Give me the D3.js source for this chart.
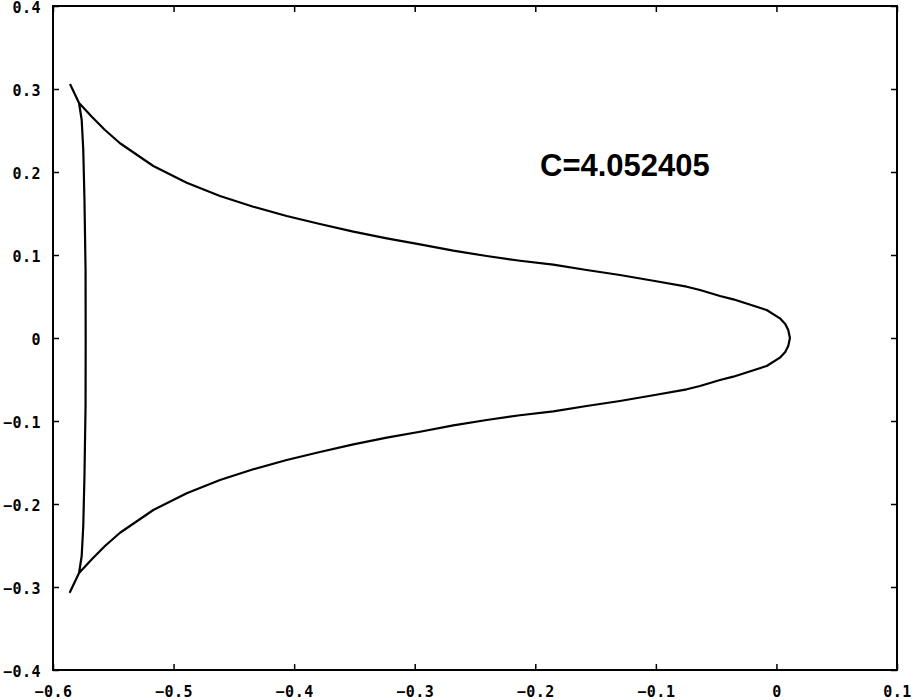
<!DOCTYPE html>
<html>
<head>
<meta charset="utf-8">
<script src="https://cdn.jsdelivr.net/npm/d3@7"></script>
<style>
  body { margin: 0; background: #fff; }
  .tick text { font-family: "DejaVu Sans Mono", monospace; font-weight: bold; font-size: 15px; letter-spacing: 0.5px; }
</style>
</head>
<body>
<div id="chart"></div>
<script>
// ticks
const xTicks = [-0.6, -0.5, -0.4, -0.3, -0.2, -0.1, 0, 0.1];
const yTicks = [-0.4, -0.3, -0.2, -0.1, 0, 0.1, 0.2, 0.3, 0.4];

// label
const labelText = "C=4.052405";

// orbit: upper cusp -> upper branch -> tip -> lower branch -> lower cusp -> inner side -> upper cusp
const orbitX = [
  -0.5859, -0.5784, -0.5676, -0.5569, -0.5444, -0.5168, -0.4891, -0.4615, -0.4339, -0.4062,
  -0.3786, -0.3509, -0.3232, -0.2956, -0.2680, -0.2403, -0.2127, -0.1851, -0.1574, -0.1298,
  -0.1021, -0.0744, -0.0634, -0.0468, -0.0358, -0.0081, 0.0029, 0.0073, 0.0098, 0.0112,
  0.0098, 0.0073, 0.0029, -0.0081, -0.0358, -0.0468, -0.0634, -0.0744, -0.1021, -0.1298,
  -0.1574, -0.1851, -0.2127, -0.2403, -0.2680, -0.2956, -0.3232, -0.3509, -0.3786, -0.4062,
  -0.4339, -0.4615, -0.4891, -0.5168, -0.5444, -0.5569, -0.5676, -0.5784, -0.5859,
  -0.5784, -0.5762, -0.5749, -0.5739, -0.5730, -0.5729, -0.5730, -0.5739, -0.5749, -0.5762,
  -0.5784, -0.5859
];
const orbitY = [
  0.3060, 0.2831, 0.2663, 0.2506, 0.2346, 0.2072, 0.1871, 0.1711, 0.1582, 0.1470,
  0.1373, 0.1281, 0.1201, 0.1129, 0.1052, 0.0988, 0.0931, 0.0883, 0.0819, 0.0759,
  0.0690, 0.0618, 0.0578, 0.0506, 0.0466, 0.0337, 0.0237, 0.0169, 0.0096, 0.0000,
  -0.0096, -0.0169, -0.0237, -0.0337, -0.0466, -0.0506, -0.0578, -0.0618, -0.0690, -0.0759,
  -0.0819, -0.0883, -0.0931, -0.0988, -0.1052, -0.1129, -0.1201, -0.1281, -0.1373, -0.1470,
  -0.1582, -0.1711, -0.1871, -0.2072, -0.2346, -0.2506, -0.2663, -0.2831, -0.3060,
  -0.2831, -0.2627, -0.2265, -0.1663, -0.0820, 0.0000, 0.0820, 0.1663, 0.2265, 0.2627,
  0.2831, 0.3060
];

const width = 916;
const height = 700;
const plotLeft = 53, plotRight = 897, plotTop = 6, plotBottom = 670;

const svg = d3.select("#chart").append("svg")
  .attr("width", width)
  .attr("height", height)
  .style("background", "#fff");

const x = d3.scaleLinear().domain([-0.6, 0.1]).range([plotLeft, plotRight]);
const y = d3.scaleLinear().domain([-0.4, 0.4]).range([plotBottom, plotTop]);

const fmt = v => (Math.abs(v) < 1e-9 ? "0" : v.toFixed(1).replace("-", "\u2212"));

// axes with inward ticks on all sides
const gx = svg.append("g").attr("transform", `translate(0,${plotBottom})`)
  .call(d3.axisBottom(x).tickValues(xTicks).tickFormat(fmt).tickSizeInner(-6).tickSizeOuter(0).tickPadding(16));
const gxTop = svg.append("g").attr("transform", `translate(0,${plotTop})`)
  .call(d3.axisTop(x).tickValues(xTicks).tickFormat("").tickSizeInner(-6).tickSizeOuter(0));
const gy = svg.append("g").attr("transform", `translate(${plotLeft},0)`)
  .call(d3.axisLeft(y).tickValues(yTicks).tickFormat(fmt).tickSizeInner(-6).tickSizeOuter(0).tickPadding(12));
const gyRight = svg.append("g").attr("transform", `translate(${plotRight},0)`)
  .call(d3.axisRight(y).tickValues(yTicks).tickFormat("").tickSizeInner(-6).tickSizeOuter(0));

gy.selectAll(".tick text").attr("dy", "0.45em");

[gx, gxTop, gy, gyRight].forEach(g => {
  g.select(".domain").remove();
  g.selectAll(".tick line").attr("stroke", "#000").attr("stroke-width", 1.5);
  g.selectAll(".tick text").attr("fill", "#000");
});

// frame
svg.append("rect")
  .attr("x", plotLeft).attr("y", plotTop)
  .attr("width", plotRight - plotLeft).attr("height", plotBottom - plotTop)
  .attr("fill", "none").attr("stroke", "#000").attr("stroke-width", 2);

// orbit curve
const points = orbitX.map((v, i) => [v, orbitY[i]]);
const line = d3.line().x(d => x(d[0])).y(d => y(d[1]));
svg.append("path")
  .datum(points)
  .attr("d", line)
  .attr("fill", "none")
  .attr("stroke", "#000")
  .attr("stroke-width", 2.2)
  .attr("stroke-linejoin", "round");

// label
svg.append("text")
  .attr("x", 540).attr("y", 176)
  .attr("font-family", "Liberation Sans, Arial, sans-serif")
  .attr("font-weight", "bold")
  .attr("font-size", 31)
  .attr("fill", "#000")
  .text(labelText);
</script>
</body>
</html>
